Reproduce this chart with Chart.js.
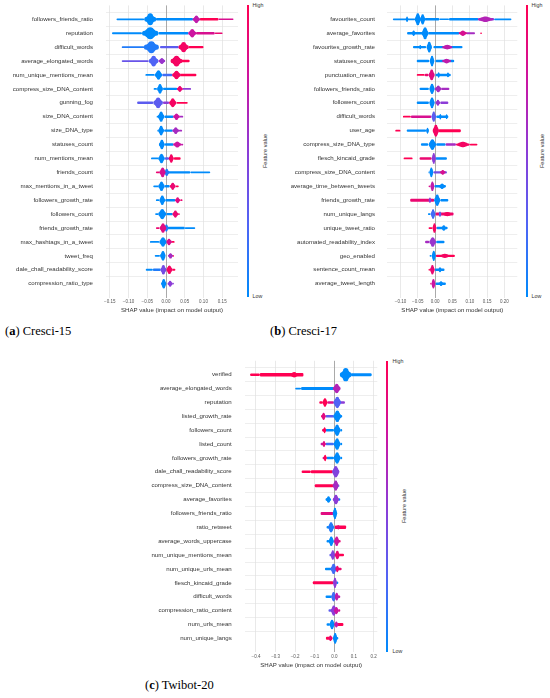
<!DOCTYPE html>
<html><head><meta charset="utf-8">
<script src="https://cdn.jsdelivr.net/npm/chart.js@4.4.1/dist/chart.umd.min.js"></script>
<style>
html,body{margin:0;padding:0;background:#fff;}
body{width:550px;height:698px;overflow:hidden;position:relative;}
canvas{position:absolute;}
.cb{position:absolute;background:linear-gradient(to bottom,rgb(255,0,82) 0%,rgb(205,20,160) 25%,rgb(140,60,215) 50%,rgb(80,100,245) 75%,rgb(0,139,251) 100%);}
.t{position:absolute;font-family:"Liberation Sans",Arial,sans-serif;font-size:5.3px;line-height:1;color:#333;white-space:nowrap;transform:translateY(-50%);}
.fv{position:absolute;font-family:"Liberation Sans",Arial,sans-serif;font-size:5.6px;line-height:1;color:#333;white-space:nowrap;transform:translate(-50%,-50%) rotate(-90deg);}
.cap{position:absolute;font-family:"Liberation Serif","Times New Roman",serif;font-size:12.5px;line-height:1;color:#000;white-space:nowrap;transform:translateY(-50%);}
</style></head><body>
<canvas id="ca" width="240" height="318" style="left:0;top:0"></canvas>
<canvas id="cbb" width="250" height="318" style="left:270px;top:0"></canvas>
<canvas id="cc" width="260" height="318" style="left:120px;top:355px"></canvas>

<div class="cb" style="left:246.7px;top:5.4px;width:2.7px;height:291.6px"></div>
<div class="t" style="left:252.5px;top:6px">High</div>
<div class="t" style="left:252.5px;top:297px">Low</div>
<div class="fv" style="left:265.5px;top:151px">Feature value</div>

<div class="cb" style="left:525.7px;top:5.4px;width:2.5px;height:291.6px"></div>
<div class="t" style="left:531.5px;top:6px">High</div>
<div class="t" style="left:531.5px;top:297px">Low</div>
<div class="fv" style="left:543.3px;top:151px">Feature value</div>

<div class="cb" style="left:385.7px;top:360.5px;width:2.6px;height:291.5px"></div>
<div class="t" style="left:392.5px;top:362px">High</div>
<div class="t" style="left:392.5px;top:652px">Low</div>
<div class="fv" style="left:405px;top:506px">Feature value</div>

<div class="cap" style="left:5px;top:331px">(<b>a</b>) Cresci-15</div>
<div class="cap" style="left:270px;top:331px">(<b>b</b>) Cresci-17</div>
<div class="cap" style="left:145px;top:685px">(<b>c</b>) Twibot-20</div>

<script>
// ---------- DATA ----------
// tails: [from, to, featureValue(0=low..1=high), density]
// blobs: [center, halfSpread, featureValue, density]
const featuresA = ['followers_friends_ratio','reputation','difficult_words','average_elongated_words','num_unique_mentions_mean','compress_size_DNA_content','gunning_fog','size_DNA_content','size_DNA_type','statuses_count','num_mentions_mean','friends_count','max_mentions_in_a_tweet','followers_growth_rate','followers_count','friends_growth_rate','max_hashtags_in_a_tweet','tweet_freq','dale_chall_readability_score','compression_ratio_type'];
const tailsA = [
 [[-0.132,-0.058,0,1.5],[-0.027,0.072,0,2],[0.09,0.14,1,2],[0.14,0.18,0.8,1.2]],
 [[-0.144,-0.064,0,1.5],[-0.02,0.06,0,2],[0.08,0.13,0.8,2],[0.13,0.151,0.9,1.2]],
 [[-0.118,-0.058,0.1,1.5],[-0.016,0.034,0.3,2],[0.06,0.1,1,2]],
 [[-0.118,-0.046,0.35,1.5],[0.04,0.063,1,2]],
 [[-0.055,-0.03,0,1.5],[-0.01,0.017,0.2,2],[0.038,0.081,1,2]],
 [[-0.033,-0.024,0,1.5],[-0.008,0.03,0,2],[0.044,0.067,0.5,1.5]],
 [[-0.077,-0.034,0.3,2],[-0.008,0.008,0.5,2],[0.028,0.058,1,1.5]],
 [[-0.025,-0.02,0,1.5],[-0.004,0.02,0,2],[0.036,0.046,0.6,1.5]],
 [[-0.023,-0.02,0,1.5],[-0.005,0.018,0,2],[0.034,0.043,0.6,1.5]],
 [[-0.018,-0.015,0,1.5],[-0.003,0.02,0,2],[0.04,0.046,0.7,1.5]],
 [[-0.04,-0.02,0,1.5],[-0.003,0.008,0.3,2],[0.021,0.039,1,2]],
 [[-0.027,-0.017,0.9,1.5],[0.005,0.065,0,2],[0.065,0.118,0,1.5]],
 [[-0.034,-0.02,0,1.5],[-0.003,0.01,0,2],[0.026,0.034,1,1.5]],
 [[-0.027,-0.018,0,1.5],[-0.002,0.025,0,2],[0.038,0.044,0.9,1.5]],
 [[-0.029,-0.02,0,1.5],[0,0.018,0,2],[0.032,0.037,0.9,1.5]],
 [[-0.027,-0.017,0.9,1.5],[0.002,0.05,0,2.2],[0.05,0.078,0,1.5]],
 [[-0.043,-0.018,0,1.5],[0.015,0.023,1,1.5]],
 [[-0.03,-0.016,0,1.5],[0.018,0.021,1,1.5]],
 [[-0.054,-0.035,0,1.5],[-0.035,-0.014,0.1,2],[0.017,0.025,1,1.5]],
 [[-0.012,-0.01,0,1.5],[0.017,0.021,0.5,1.5]]
];
const blobsA = [
 [[-0.042,0.016,0,1.0],[0.081,0.01,0.7,0.65]],
 [[-0.042,0.022,0,1.0],[0.07,0.011,0.75,0.7]],
 [[-0.039,0.02,0.1,1.0],[0.047,0.014,0.95,0.85]],
 [[-0.033,0.013,0.25,0.9],[-0.011,0.009,0.55,0.5],[0.028,0.016,0.95,0.9]],
 [[-0.02,0.01,0,0.8],[0.028,0.012,0.95,0.7]],
 [[-0.016,0.008,0,0.8],[0.037,0.008,0.9,0.5]],
 [[-0.021,0.013,0.3,0.9],[0.018,0.01,0.95,0.75]],
 [[-0.013,0.009,0,0.85],[0.028,0.009,0.75,0.55]],
 [[-0.013,0.008,0,0.8],[0.026,0.009,0.6,0.55]],
 [[-0.011,0.008,0,0.8],[0.03,0.011,0.75,0.5]],
 [[-0.012,0.009,0,0.8],[0.014,0.007,0.95,0.7]],
 [[0.002,0.007,0.1,0.6],[-0.009,0.009,0.8,0.8]],
 [[-0.012,0.009,0,0.8],[0.018,0.008,0.9,0.6]],
 [[-0.01,0.008,0,0.8],[0.031,0.007,0.85,0.5]],
 [[-0.01,0.011,0,0.85],[0.025,0.008,0.9,0.6]],
 [[0.001,0.006,0.1,0.6],[-0.008,0.009,0.85,0.8]],
 [[-0.008,0.01,0,0.8],[0.008,0.008,0.8,0.55]],
 [[-0.008,0.008,0,0.8],[0.012,0.007,0.6,0.45]],
 [[-0.007,0.008,0.4,0.8],[0.009,0.009,0.95,0.7]],
 [[-0.006,0.007,0,0.8],[0.011,0.007,0.5,0.5]]
];
const tickValsA = [-0.15,-0.10,-0.05,0,0.05,0.10,0.15];
const tickLabelsA = ['\u22120.15','\u22120.10','\u22120.05','0.00','0.05','0.10','0.15'];

const featuresB = ['favourites_count','average_favorites','favourites_growth_rate','statuses_count','punctuation_mean','followers_friends_ratio','followers_count','difficult_words','user_age','compress_size_DNA_type','flesch_kincaid_grade','compress_size_DNA_content','average_time_between_tweets','friends_growth_rate','num_unique_langs','unique_tweet_ratio','automated_readability_index','geo_enabled','sentence_count_mean','average_tweet_length'];
const tailsB = [
 [[-0.122,-0.058,0,1.5],[-0.03,0.012,0,2],[0.012,0.04,0,1.2],[0.04,0.125,0,2],[0.125,0.17,0.5,2],[0.17,0.22,0,1.5]],
 [[-0.081,-0.035,0,2],[-0.02,0.07,0,2],[0.09,0.115,0.6,1.5],[0.13,0.135,1,1.2]],
 [[-0.064,-0.026,0,2],[-0.005,0.079,0,2]],
 [[-0.053,-0.017,0,2],[0,0.055,0,2]],
 [[-0.053,-0.03,1,1.5],[-0.03,-0.019,0.9,2],[0,0.045,0,2]],
 [[-0.045,-0.018,0,2],[0.018,0.041,0.6,2]],
 [[-0.053,-0.018,0,2],[0.015,0.038,0.5,2]],
 [[-0.093,-0.07,1,1.5],[-0.07,-0.011,0.8,2],[0.003,0.038,0,2]],
 [[-0.115,-0.1,1,1.5],[-0.082,-0.026,0,2],[0.01,0.074,1,2.5]],
 [[-0.041,-0.02,0,2],[0.003,0.03,0,2],[0.03,0.06,0.6,2],[0.1,0.122,1,1.5]],
 [[-0.091,-0.065,1,1.5],[-0.045,-0.01,0.9,2],[0,0.034,0,2]],
 [[-0.019,-0.017,0,1.5],[-0.005,0.034,0.4,2]],
 [[-0.019,-0.014,0.8,1.5],[-0.002,0.031,0,2]],
 [[-0.072,-0.003,0.9,2.5],[0.015,0.038,0,2]],
 [[-0.021,-0.013,0,1.5],[0.001,0.053,0.9,2.5]],
 [[-0.019,-0.008,1,1.5],[0.004,0.036,0,2]],
 [[-0.029,-0.017,0.6,2],[0.003,0.027,0,2]],
 [[-0.016,-0.01,0,1.5],[0.002,0.057,1,2]],
 [[-0.019,-0.015,1,1.5],[-0.001,0.027,0,2]],
 [[-0.014,-0.011,0.9,1.5],[0.001,0.031,0,2]]
];
const blobsB = [
 [[-0.081,0.004,0,0.45],[-0.05,0.009,0,1.0],[-0.036,0.008,0,0.85],[0.145,0.022,0.65,0.45]],
 [[-0.062,0.006,0,0.45],[-0.029,0.01,0,1.0],[0.08,0.012,0.8,0.45]],
 [[-0.043,0.004,0,0.35],[-0.017,0.008,0,0.9],[0.035,0.015,0.7,0.4]],
 [[-0.009,0.007,0,0.9],[0.033,0.013,0.7,0.4]],
 [[0.01,0.004,0,0.45],[0.037,0.005,0,0.4],[-0.01,0.009,0.85,0.9]],
 [[-0.009,0.008,0,0.85],[0.009,0.01,0.6,0.55]],
 [[-0.009,0.008,0,0.9],[0.008,0.007,0.55,0.5]],
 [[-0.004,0.007,0.3,0.85],[0.015,0.004,0,0.45],[0.033,0.004,0,0.4]],
 [[-0.022,0.004,0,0.5],[0.002,0.009,0.95,1.0]],
 [[-0.008,0.011,0,0.9],[0.08,0.02,0.95,0.45]],
 [[-0.004,0.006,0.5,0.9]],
 [[-0.011,0.006,0,0.8],[0.022,0.008,0.8,0.4]],
 [[-0.008,0.006,0.7,0.8],[0.02,0.01,0,0.45]],
 [[-0.015,0.004,0.5,0.45],[0.006,0.009,0,0.95]],
 [[-0.006,0.007,0.2,0.8],[0.014,0.004,0.3,0.45],[0.035,0.015,0.95,0.35]],
 [[-0.002,0.006,0.95,0.8],[0.025,0.008,0,0.45]],
 [[-0.007,0.01,0.55,0.8]],
 [[-0.004,0.006,0,0.85],[0.028,0.015,0.95,0.35]],
 [[-0.008,0.007,0.9,0.8],[0.014,0.006,0,0.4]],
 [[-0.005,0.006,0.75,0.8],[0.017,0.008,0,0.4]]
];
const tickValsB = [-0.10,-0.05,0,0.05,0.10,0.15,0.20];
const tickLabelsB = ['\u22120.10','\u22120.05','0.00','0.05','0.10','0.15','0.20'];

const featuresC = ['verified','average_elongated_words','reputation','listed_growth_rate','followers_count','listed_count','followers_growth_rate','dale_chall_readability_score','compress_size_DNA_content','average_favorites','followers_friends_ratio','ratio_retweet','average_words_uppercase','num_unique_mentions_mean','num_unique_urls_mean','flesch_kincaid_grade','difficult_words','compression_ratio_content','num_urls_mean','num_unique_langs'];
const tailsC = [
 [[-0.43,-0.38,1,2],[-0.38,-0.158,1,3],[0.085,0.19,0,2.5]],
 [[-0.2,-0.17,0,1.5],[-0.17,0,0,2.5]],
 [[-0.077,-0.06,1,2],[-0.035,0,0.8,2],[0.03,0.054,0.5,2]],
 [[-0.068,-0.045,0.9,2],[-0.045,0,0.3,2],[0.03,0.04,0,2]],
 [[-0.063,-0.045,0.9,2],[-0.045,0,0,2],[0.03,0.04,0,2]],
 [[-0.07,-0.045,0.7,2],[-0.045,0,0.2,2],[0.03,0.04,0,2]],
 [[-0.06,-0.04,0.8,2],[-0.04,0,0,2],[0.03,0.04,0,2]],
 [[-0.167,-0.12,1,2],[-0.12,-0.008,1,2.5]],
 [[-0.1,-0.005,1,2.5],[0.02,0.025,0,2]],
 [[-0.045,-0.035,0,2],[0.02,0.03,0,2]],
 [[-0.07,-0.005,0.85,2.5]],
 [[-0.04,-0.028,0,2],[0,0.06,1,3]],
 [[-0.04,-0.026,0,2],[0.022,0.032,0.9,2]],
 [[-0.025,-0.016,0.3,2],[0.025,0.049,1,2]],
 [[-0.048,-0.016,0,2],[0.02,0.037,0.9,2]],
 [[-0.11,-0.005,1,2.5],[0.01,0.02,0,2]],
 [[-0.045,-0.014,0,2],[0.02,0.03,0.7,2]],
 [[-0.03,-0.015,0.3,2],[0.02,0.03,0.8,2]],
 [[-0.04,-0.023,0,2],[0.015,0.046,1,2.5]],
 [[-0.043,-0.01,1,2.5],[0.01,0.02,0,2]]
];
const blobsC = [
 [[-0.205,0.025,1,0.45],[0.058,0.03,0,1.1]],
 [[0.012,0.02,0.65,0.8]],
 [[-0.048,0.014,1,0.7],[0.015,0.02,0.25,0.95]],
 [[-0.055,0.011,0.85,0.6],[0.015,0.021,0,0.95]],
 [[-0.05,0.008,1,0.5],[0.014,0.018,0,0.95]],
 [[-0.053,0.009,0.85,0.5],[0.014,0.018,0,0.95]],
 [[-0.047,0.008,1,0.55],[0.014,0.018,0,0.95]],
 [[0.007,0.019,0.45,0.95]],
 [[0.007,0.016,0.6,0.85]],
 [[-0.03,0.013,0,0.55],[0.008,0.016,0.5,0.8]],
 [[0.003,0.012,0,0.95]],
 [[-0.017,0.016,0.1,0.85],[0.02,0.013,0.9,0.35]],
 [[-0.016,0.014,0,0.8],[0.012,0.014,0.75,0.8]],
 [[-0.008,0.012,0.45,0.8],[0.015,0.014,0.9,0.7]],
 [[-0.004,0.016,0.2,0.85],[0.015,0.01,0.9,0.55]],
 [[0.003,0.011,0.5,0.85]],
 [[-0.004,0.013,0.2,0.8],[0.012,0.012,0.7,0.65]],
 [[-0.003,0.016,0.5,0.85],[0.01,0.013,0.75,0.6]],
 [[-0.012,0.014,0,0.8],[0.01,0.011,0.7,0.5]],
 [[-0.02,0.01,0.9,0.45],[0.004,0.012,0,0.9]]
];
const tickValsC = [-0.4,-0.3,-0.2,-0.1,0,0.1,0.2];
const tickLabelsC = ['\u22120.4','\u22120.3','\u22120.2','\u22120.1','0.0','0.1','0.2'];

const axisTitle = 'SHAP value (impact on model output)';

// ---------- RENDERING ----------
const STOPS = [[0,[0,139,251]],[0.25,[80,100,245]],[0.5,[140,60,215]],[0.75,[205,20,160]],[1,[255,0,82]]];
function colorFor(v){
  for(let i=1;i<STOPS.length;i++){
    if(v<=STOPS[i][0]){
      const [p0,c0]=STOPS[i-1],[p1,c1]=STOPS[i];
      const f=(v-p0)/(p1-p0);
      const c=c0.map((a,k)=>Math.round(a+(c1[k]-a)*f));
      return 'rgb('+c.join(',')+')';
    }
  }
  return 'rgb(255,0,82)';
}
function buildDatasets(feats,tails,blobs){
  const ds=[];
  const base={grouped:false,borderWidth:0,borderSkipped:false,inflateAmount:0};
  tails.forEach((row,i)=>row.forEach(([a,b,v,d])=>{
    ds.push(Object.assign({},base,{data:[{y:feats[i],x:[a,b]}],backgroundColor:colorFor(v),barThickness:1.2*d,borderRadius:1,order:10}));
  }));
  blobs.forEach((row,i)=>row.forEach(([c,w,v,d],j)=>{
    const H=12*d;
    [[1,0.42],[0.72,0.75],[0.45,1]].forEach(([fw,fh],k)=>{
      ds.push(Object.assign({},base,{data:[{y:feats[i],x:[c-w*fw,c+w*fw]}],backgroundColor:colorFor(v),barThickness:H*fh,borderRadius:20,order:8-j*3-k}));
    });
  }));
  return ds;
}
Chart.defaults.font.family='"Liberation Sans", Arial, sans-serif';
function makeChart(id,feats,tails,blobs,tickVals,tickLabels,xmin,xmax,geo){
  const labels=[''].concat(feats,['']);
  const n=labels.length;
  new Chart(document.getElementById(id),{
    type:'bar',
    data:{labels:labels,datasets:buildDatasets(feats,tails,blobs)},
    options:{
      indexAxis:'y',responsive:false,animation:false,
      layout:{padding:geo.pad},
      plugins:{legend:{display:false},tooltip:{enabled:false}},
      scales:{
        y:{type:'category',labels:labels,offset:false,
          border:{display:false},
          grid:{drawTicks:false,color:c=>(c.index===0||c.index===n-1)?'rgba(0,0,0,0)':'#e2e2e2',lineWidth:0.6},
          ticks:{autoSkip:false,padding:geo.lpad,color:'#333',font:{size:6.1}},
          afterFit:s=>{s.width=geo.yw;s.paddingTop=0;s.paddingBottom=0;}
        },
        x:{type:'linear',min:xmin,max:xmax,
          afterBuildTicks:s=>{s.ticks=tickVals.map(v=>({value:v}));},
          border:{display:false},
          grid:{drawTicks:false,color:c=>(c.tick&&Math.abs(c.tick.value)<1e-9)?'#a0a0a0':'#e0e0e0',lineWidth:c=>(c.tick&&Math.abs(c.tick.value)<1e-9)?0.9:0.7},
          ticks:{autoSkip:false,maxRotation:0,padding:1.5,color:'#555',font:{size:4.5},callback:(v,i)=>tickLabels[i]},
          title:{display:true,text:axisTitle,color:'#333',font:{size:6.1},padding:0},
          afterFit:s=>{s.height=geo.xh;}
        }
      }
    }
  });
}
makeChart('ca',featuresA,tailsA,blobsA,tickValsA,tickLabelsA,-0.16,0.192,{pad:{top:5.4,right:2,bottom:4,left:0},yw:106,lpad:13,xh:16.4});
makeChart('cbb',featuresB,tailsB,blobsB,tickValsB,tickLabelsB,-0.138,0.237,{pad:{top:5.4,right:2.7,bottom:4,left:0},yw:117.3,lpad:12.3,xh:16.4});
makeChart('cc',featuresC,tailsC,blobsC,tickValsC,tickLabelsC,-0.456,0.219,{pad:{top:5.8,right:2.7,bottom:4.3,left:0},yw:125,lpad:13.3,xh:16.5});
</script>
</body></html>
